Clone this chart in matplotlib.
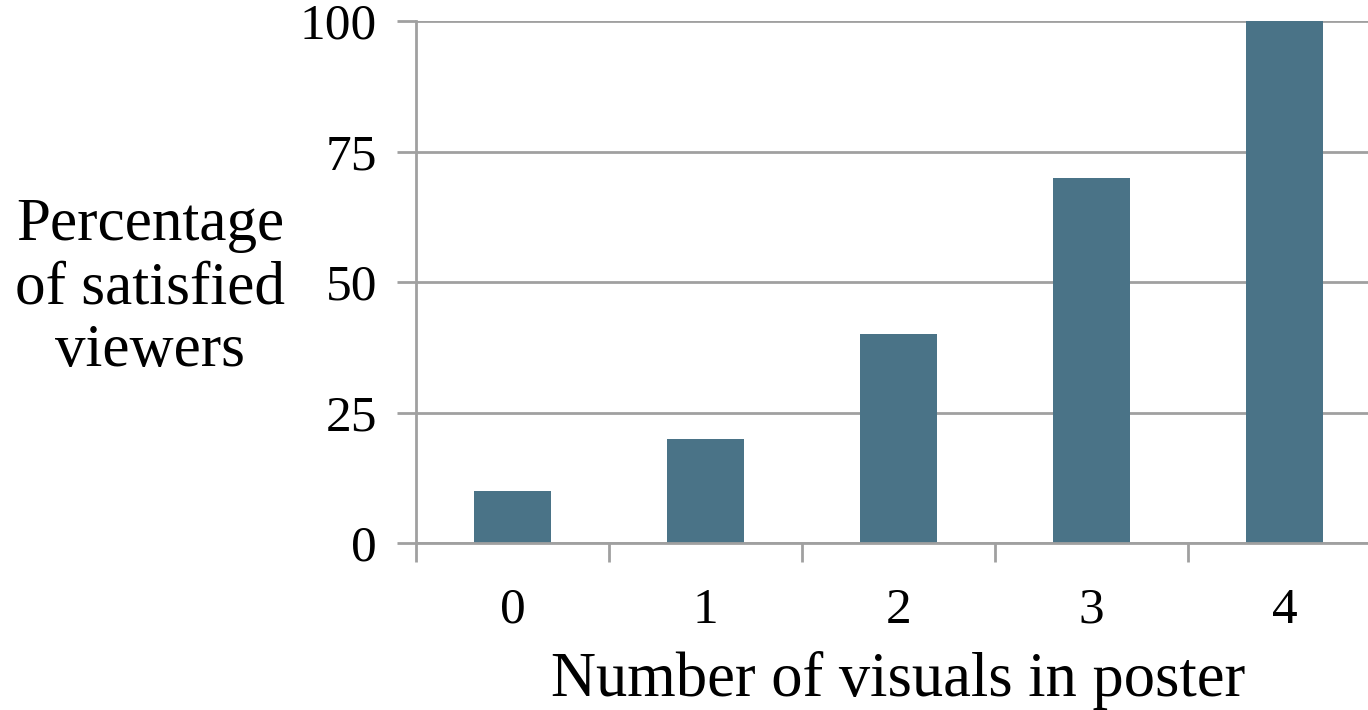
import matplotlib.pyplot as plt

visuals = ["0", "1", "2", "3", "4"]
satisfied = [10, 20, 40, 70, 100]
yticks = [0, 25, 50, 75, 100]

plt.rcParams['font.family'] = ['Liberation Serif', 'DejaVu Serif']

fig = plt.figure(figsize=(13.68, 7.1), dpi=100)
ax = fig.add_axes([0.3041, 0.2352, 0.7054, 0.7352])

x = range(len(visuals))
ax.bar(x, satisfied, width=0.4, color='#4a7387', zorder=3)

ax.set_xlim(-0.5, len(visuals) - 0.5)
ax.set_ylim(0, 100)
ax.set_yticks(yticks)
ax.set_yticklabels([str(t) for t in yticks], fontsize=37)
ax.yaxis.grid(True, color='#a0a0a0', linewidth=2, zorder=0)

# category ticks sit on the boundaries, labels in the middle
ax.set_xticks([i - 0.5 for i in range(len(visuals) + 1)])
ax.set_xticklabels([])
ax.set_xticks(list(x), minor=True)
ax.set_xticklabels(visuals, minor=True, fontsize=37)
ax.tick_params(axis='x', which='major', length=14, width=2, color='#a0a0a0', direction='out')
ax.tick_params(axis='x', which='minor', length=0, pad=32)
ax.tick_params(axis='y', length=14, width=2, color='#a0a0a0', pad=14)

for s in ['top', 'right']:
    ax.spines[s].set_visible(False)
for s in ['left', 'bottom']:
    ax.spines[s].set_color('#a0a0a0')
    ax.spines[s].set_linewidth(2)
    ax.spines[s].set_zorder(4)

ax.set_xlabel("Number of visuals in poster", fontsize=45, labelpad=12)
fig.text(0.110, 0.594, "Percentage\nof satisfied\nviewers", fontsize=44,
         ha='center', va='center', linespacing=1.17)

fig.savefig("out.png", dpi=100)
